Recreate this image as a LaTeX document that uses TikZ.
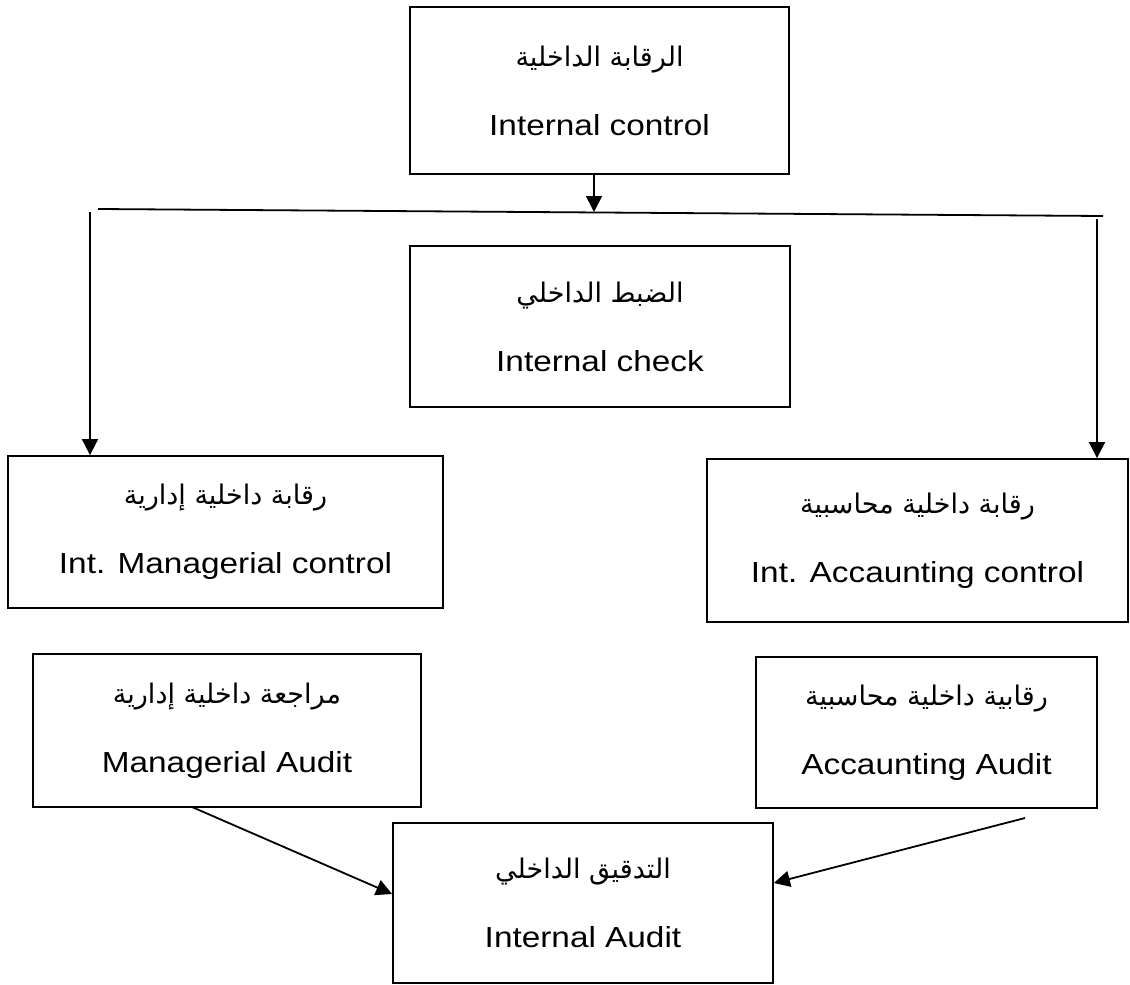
\documentclass[tikz,border=0pt]{standalone}
\usepackage{fontspec}
\setmainfont{Liberation Sans}[FakeStretch=1.15]
\newfontfamily\arabicfont[Script=Arabic]{DejaVu Sans}
\TeXXeTstate=1
\usetikzlibrary{
    arrows.meta,
    positioning,
    calc
}

\begin{document}
\begin{tikzpicture}[
    x=1pt, y=-1pt,
    block/.style={rectangle, draw=black, line width=1.8pt, align=center,
                  font=\fontsize{29}{35}\selectfont, text centered, inner sep=0pt},
    arrow/.style={line width=1.8pt, -{Triangle[length=16pt,width=16pt]}},
    bus/.style={line width=1.8pt}
]
    \useasboundingbox (0,0) rectangle (1130,985);

    % Nodes
    \node (ctrl) [block, minimum width=379pt, minimum height=167pt] at (599.5,90.5)
        {{\fontsize{27}{30}\arabicfont\beginR الرقابة الداخلية\endR}\\[34pt]Internal control};
    \node (check) [block, minimum width=380pt, minimum height=161pt] at (600,326.5)
        {{\fontsize{27}{30}\arabicfont\beginR الضبط الداخلي\endR}\\[34pt]Internal check};
    \node (mgrctrl) [block, minimum width=435pt, minimum height=152pt] at (225.5,532)
        {{\fontsize{27}{30}\arabicfont\beginR رقابة داخلية إدارية\endR}\\[34pt]Int. Managerial control};
    \node (accctrl) [block, minimum width=421pt, minimum height=163pt] at (917.5,540.5)
        {{\fontsize{27}{30}\arabicfont\beginR رقابة داخلية محاسبية\endR}\\[34pt]Int. Accaunting control};
    \node (mgraudit) [block, minimum width=388pt, minimum height=153pt] at (227,730.5)
        {{\fontsize{27}{30}\arabicfont\beginR مراجعة داخلية إدارية\endR}\\[34pt]Managerial Audit};
    \node (accaudit) [block, minimum width=341pt, minimum height=151pt] at (926.5,732.5)
        {{\fontsize{27}{30}\arabicfont\beginR رقابية داخلية محاسبية\endR}\\[34pt]Accaunting Audit};
    \node (intaudit) [block, minimum width=380pt, minimum height=160pt] at (583,903)
        {{\fontsize{27}{30}\arabicfont\beginR التدقيق الداخلي\endR}\\[34pt]Internal Audit};

    % Bus line and its ends
    \coordinate (busL) at (98,209);
    \coordinate (busR) at (1103,216);
    \coordinate (busM) at (594,212);
    \coordinate (dropL) at (90,212);
    \coordinate (dropR) at (1097,219);
    \coordinate (mgrout) at (192,807);
    \coordinate (accout) at (1025,818);

    % Arrows
    \draw [bus] (busL) -- (busR);
    \draw [arrow] (ctrl.south -| busM) -- (busM);
    \draw [arrow] (dropL) -- (dropL |- mgrctrl.north);
    \draw [arrow] (dropR) -- (dropR |- accctrl.north);
    \draw [arrow] (mgrout) -- ([yshift=9pt]intaudit.west);
    \draw [arrow] (accout) -- ([yshift=20pt]intaudit.east);

\end{tikzpicture}
\end{document}
